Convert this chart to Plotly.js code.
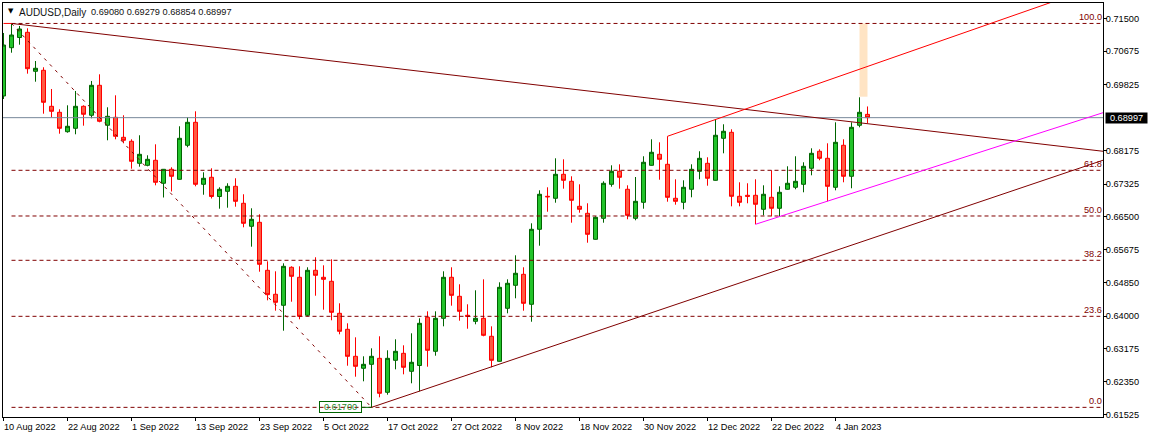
<!DOCTYPE html>
<html>
<head>
<meta charset="utf-8">
<script src="https://cdn.plot.ly/plotly-3.0.1.min.js"></script>
<style>
  html, body { margin: 0; padding: 0; background: #fff; }
  #chart { width: 1149px; height: 438px; }
</style>
</head>
<body>
<div id="chart"></div>
<script>
// Daily AUDUSD candles, one entry per bar.
const open = [
  0.69543, 0.70759, 0.71016, 0.71147, 0.70165, 0.70190, 0.69283, 0.69132, 0.68643, 0.68729,
  0.69283, 0.69057, 0.69812, 0.68805, 0.69006, 0.68502, 0.68402, 0.67847, 0.67797, 0.67923,
  0.67344, 0.67696, 0.67444, 0.68301, 0.68880, 0.67318, 0.67495, 0.67011, 0.67142, 0.67268,
  0.66840, 0.66261, 0.66361, 0.65152, 0.64548, 0.64271, 0.65228, 0.64976, 0.64019, 0.65152,
  0.64976, 0.64875, 0.64069, 0.63666, 0.62986, 0.62684, 0.62784, 0.62935, 0.62079, 0.62885,
  0.63061, 0.62608, 0.62754, 0.63968, 0.63112, 0.63943, 0.64976, 0.64497, 0.64019, 0.63867,
  0.63943, 0.63490, 0.62860, 0.64195, 0.64774, 0.65051, 0.64296, 0.66185, 0.67016, 0.66966,
  0.67570, 0.67394, 0.66764, 0.66588, 0.65933, 0.66462, 0.67318, 0.67646, 0.67193, 0.66462,
  0.66865, 0.67797, 0.68074, 0.67822, 0.66966, 0.66865, 0.67193, 0.67646, 0.67847, 0.67419,
  0.68477, 0.68628, 0.67016, 0.67041, 0.67041, 0.66689, 0.66991, 0.66714, 0.67193, 0.67243,
  0.67318, 0.67722, 0.68150, 0.67973, 0.67243, 0.68301, 0.67520, 0.68805, 0.69080
];
const high = [
  0.71130, 0.71369, 0.71306, 0.71248, 0.70424, 0.70266, 0.69719, 0.69208, 0.69308, 0.69669,
  0.69308, 0.69921, 0.70089, 0.69258, 0.69560, 0.69057, 0.68452, 0.68553, 0.68049, 0.68326,
  0.67704, 0.67747, 0.68780, 0.69006, 0.69157, 0.67621, 0.67722, 0.67243, 0.67344, 0.67470,
  0.67067, 0.66714, 0.66563, 0.65379, 0.65127, 0.65328, 0.65253, 0.65253, 0.65228, 0.65480,
  0.65278, 0.65429, 0.64321, 0.63817, 0.63464, 0.62986, 0.63187, 0.63490, 0.63137, 0.63414,
  0.63263, 0.63565, 0.63943, 0.64119, 0.64119, 0.65127, 0.65228, 0.64800, 0.64296, 0.64648,
  0.64925, 0.63741, 0.64850, 0.64925, 0.65530, 0.65228, 0.66336, 0.67167, 0.67243, 0.67973,
  0.67948, 0.67520, 0.67318, 0.66840, 0.66512, 0.67394, 0.67797, 0.67822, 0.67293, 0.67502,
  0.68024, 0.68452, 0.68376, 0.68528, 0.67444, 0.67419, 0.67822, 0.68150, 0.67999, 0.68956,
  0.68830, 0.68704, 0.67369, 0.67344, 0.67444, 0.67293, 0.67671, 0.67268, 0.67772, 0.68024,
  0.67873, 0.68225, 0.68200, 0.68351, 0.68880, 0.68452, 0.68880, 0.69510, 0.69279
];
const low = [
  0.69467, 0.70633, 0.70835, 0.70105, 0.69903, 0.69097, 0.69006, 0.68593, 0.68618, 0.68578,
  0.68795, 0.68981, 0.68880, 0.68427, 0.68452, 0.68351, 0.67711, 0.67762, 0.67772, 0.67293,
  0.66986, 0.67137, 0.67437, 0.68251, 0.67268, 0.67056, 0.66961, 0.66704, 0.66729, 0.66754,
  0.66235, 0.65747, 0.65117, 0.64396, 0.64135, 0.63631, 0.64361, 0.63918, 0.63993, 0.64512,
  0.64160, 0.63893, 0.63540, 0.62749, 0.62472, 0.62356, 0.61700, 0.61953, 0.62019, 0.62658,
  0.62532, 0.62306, 0.62104, 0.62724, 0.63001, 0.63741, 0.64261, 0.63883, 0.63681, 0.63792,
  0.63490, 0.62709, 0.62852, 0.64069, 0.64447, 0.64135, 0.63857, 0.65772, 0.66628, 0.66855,
  0.67208, 0.66351, 0.66603, 0.65847, 0.65925, 0.66351, 0.67258, 0.67208, 0.66437, 0.66412,
  0.66704, 0.67790, 0.67434, 0.66880, 0.66805, 0.66689, 0.66991, 0.67444, 0.67283, 0.67412,
  0.68099, 0.66764, 0.66764, 0.66840, 0.66311, 0.66537, 0.66512, 0.66512, 0.67185, 0.67193,
  0.67117, 0.67545, 0.67923, 0.66890, 0.67167, 0.67369, 0.67218, 0.68754, 0.68854
];
const close = [
  0.70827, 0.71079, 0.71230, 0.70230, 0.70241, 0.69384, 0.69157, 0.68729, 0.68780, 0.69283,
  0.69082, 0.69812, 0.68905, 0.69031, 0.68528, 0.68427, 0.67898, 0.68074, 0.67948, 0.67369,
  0.67696, 0.67520, 0.68477, 0.68880, 0.67318, 0.67470, 0.67011, 0.67193, 0.67268, 0.66890,
  0.66336, 0.66437, 0.65303, 0.64538, 0.64346, 0.65253, 0.65001, 0.63993, 0.65152, 0.65026,
  0.64925, 0.64094, 0.63616, 0.62986, 0.62734, 0.62784, 0.62986, 0.62054, 0.62935, 0.63112,
  0.62709, 0.62835, 0.63817, 0.63137, 0.63943, 0.64976, 0.64522, 0.64119, 0.63993, 0.63943,
  0.63515, 0.62885, 0.64724, 0.64825, 0.65077, 0.64321, 0.66185, 0.67067, 0.67004, 0.67570,
  0.67419, 0.66915, 0.66689, 0.66059, 0.66487, 0.67344, 0.67646, 0.67495, 0.66537, 0.66890,
  0.67873, 0.68125, 0.67948, 0.66991, 0.66890, 0.67243, 0.67696, 0.67973, 0.67470, 0.68553,
  0.68654, 0.67016, 0.66865, 0.67016, 0.66815, 0.67067, 0.66714, 0.67117, 0.67344, 0.67394,
  0.67772, 0.68099, 0.67973, 0.67268, 0.68376, 0.67520, 0.68754, 0.69132, 0.68997
];
const bars = open.map((_, i) => i);

// Axis ticks
const dateBars = [0, 8, 16, 24, 32, 40, 48, 56, 64, 72, 80, 88, 96, 104];
const dateLabels = ['10 Aug 2022', '22 Aug 2022', '1 Sep 2022', '13 Sep 2022', '23 Sep 2022', '5 Oct 2022', '17 Oct 2022',
  '27 Oct 2022', '8 Nov 2022', '18 Nov 2022', '30 Nov 2022', '12 Dec 2022', '22 Dec 2022', '4 Jan 2023'];
const priceTicks = [0.715, 0.70675, 0.69825, 0.68175, 0.67325, 0.665, 0.65675, 0.6485, 0.64, 0.63175, 0.6235, 0.61525];

// Fibonacci levels, header and the last price
const fibNames = ['100.0', '61.8', '50.0', '38.2', '23.6', '0.0'];
const fibPrices = [0.7137, 0.67671, 0.6652, 0.65404, 0.63993, 0.617];
const fibBars = [1, 137.1];
const lastPrice = 0.68997;
const lowPrice = 0.617;
const headerName = 'AUDUSD,Daily';
const headerPrices = '0.69080 0.69279 0.68854 0.68997';

// Drawn objects: bar positions and prices at each end
const fibDiagonalBars = [1, 46], fibDiagonalPrices = [0.7137, 0.617];
const fallingBars = [1, 137.4375], fallingPrices = [0.7137, 0.6815];
const risingBars = [46, 137.4375], risingPrices = [0.617, 0.67925];
const channelBars = [83, 131.8], channelPrices = [0.68528, 0.71961];
const magentaBars = [94, 137.4375], magentaPrices = [0.66311, 0.69122];
const stubBars = [0, 1], stubPrices = [0.7137, 0.7137];
const lowStubBars = [44.8, 46], lowStubPrices = [0.617, 0.617];
const boxBars = [107, 108], boxPrices = [0.7137, 0.69525];

const darkRed = '#800000';
const labelFont = 'Liberation Sans, Arial, sans-serif';
const labelSize = 9.2;

const lineTrace = (x, y, color, dash) => ({
  x, y, type: 'scatter', mode: 'lines', hoverinfo: 'skip',
  line: {color: color, width: 1, dash: dash || 'solid'}
});

const traces = [
  lineTrace([-0.0625, 137.4375], [lastPrice, lastPrice], '#778899'),
  ...fibPrices.map(p => lineTrace(fibBars, [p, p], darkRed, '4px,3px')),
  lineTrace(fibDiagonalBars, fibDiagonalPrices, darkRed, '3px,5px'),
  lineTrace(fallingBars, fallingPrices, darkRed),
  lineTrace(risingBars, risingPrices, darkRed),
  lineTrace(channelBars, channelPrices, '#ff0000'),
  lineTrace(magentaBars, magentaPrices, '#ff00ff'),
  lineTrace(stubBars, stubPrices, '#ff0000'),
  lineTrace(lowStubBars, lowStubPrices, '#006400'),
  {
    type: 'candlestick', x: bars, open, high, low, close, whiskerwidth: 0, hoverinfo: 'skip',
    increasing: {line: {color: '#006400', width: 1}, fillcolor: '#22c32a'},
    decreasing: {line: {color: '#ff0000', width: 1}, fillcolor: '#ff5a42'}
  }
];

const annotations = [
  {xref: 'paper', yref: 'paper', x: 0, y: 1, xanchor: 'left', yanchor: 'top', xshift: 3, yshift: -2,
    text: '▼', showarrow: false, font: {family: 'DejaVu Sans', size: 7, color: '#000'}},
  {xref: 'paper', yref: 'paper', x: 0, y: 1, xanchor: 'left', yanchor: 'top', xshift: 14, yshift: -2,
    text: headerName, showarrow: false, font: {family: labelFont, size: 10, color: '#111'}},
  {xref: 'paper', yref: 'paper', x: 0, y: 1, xanchor: 'left', yanchor: 'top', xshift: 86, yshift: -2,
    text: headerPrices, showarrow: false, font: {family: labelFont, size: labelSize, color: '#111'}},
  {xref: 'paper', yref: 'y', x: 1, y: lastPrice, xanchor: 'left', yanchor: 'middle', xshift: 2,
    text: '0.68997', showarrow: false, bgcolor: '#000', width: 41, height: 10, borderpad: 0,
    font: {family: labelFont, size: labelSize, color: '#fff'}},
  {xref: 'x', yref: 'y', x: lowStubBars[0], y: lowPrice, xanchor: 'right', yanchor: 'middle',
    text: '0.61700', showarrow: false, width: 41, height: 10, borderpad: 0, borderwidth: 1, bordercolor: '#006400',
    font: {family: labelFont, size: labelSize, color: '#1f8a2a'}},
  ...fibNames.map((name, i) => ({
    xref: 'x', yref: 'y', x: 137.4375, y: fibPrices[i], xanchor: 'right', yanchor: 'bottom', xshift: 1, yshift: -1,
    text: name, showarrow: false, font: {family: labelFont, size: labelSize, color: darkRed}
  })),
  ...dateBars.map((b, i) => ({
    xref: 'x', yref: 'paper', x: b, y: 0, xanchor: 'left', yanchor: 'top', xshift: -2, yshift: -3,
    text: dateLabels[i], showarrow: false, font: {family: labelFont, size: labelSize, color: '#000'}
  }))
];

const layout = {
  width: 1149,
  height: 438,
  margin: {l: 3, r: 46, t: 3, b: 21, pad: 0},
  paper_bgcolor: '#fff',
  plot_bgcolor: '#fff',
  showlegend: false,
  boxgap: 0.2857,
  xaxis: {
    range: [-0.0625, 137.4375],
    rangeslider: {visible: false},
    tickmode: 'array',
    tickvals: dateBars,
    ticktext: dateBars.map(() => ''),
    ticks: 'outside',
    ticklen: 3,
    tickcolor: '#000',
    tickwidth: 1,
    showgrid: false,
    zeroline: false,
    showline: true,
    linecolor: '#000',
    linewidth: 1,
    mirror: true
  },
  yaxis: {
    range: [0.61457, 0.71885],
    side: 'right',
    tickmode: 'array',
    tickvals: priceTicks,
    tickformat: '.5f',
    ticks: 'outside',
    ticklen: 3,
    tickcolor: '#000',
    tickwidth: 1,
    ticklabelstandoff: -3,
    tickfont: {family: labelFont, size: labelSize, color: '#000'},
    showgrid: false,
    zeroline: false,
    showline: true,
    linecolor: '#000',
    linewidth: 1,
    mirror: true
  },
  shapes: [{
    type: 'rect', layer: 'below', xref: 'x', yref: 'y',
    x0: boxBars[0], x1: boxBars[1], y0: boxPrices[1], y1: boxPrices[0],
    fillcolor: '#ffe4c4', line: {width: 0}
  }],
  annotations
};

Plotly.newPlot('chart', traces, layout, {displayModeBar: false, staticPlot: true});
</script>
</body>
</html>
